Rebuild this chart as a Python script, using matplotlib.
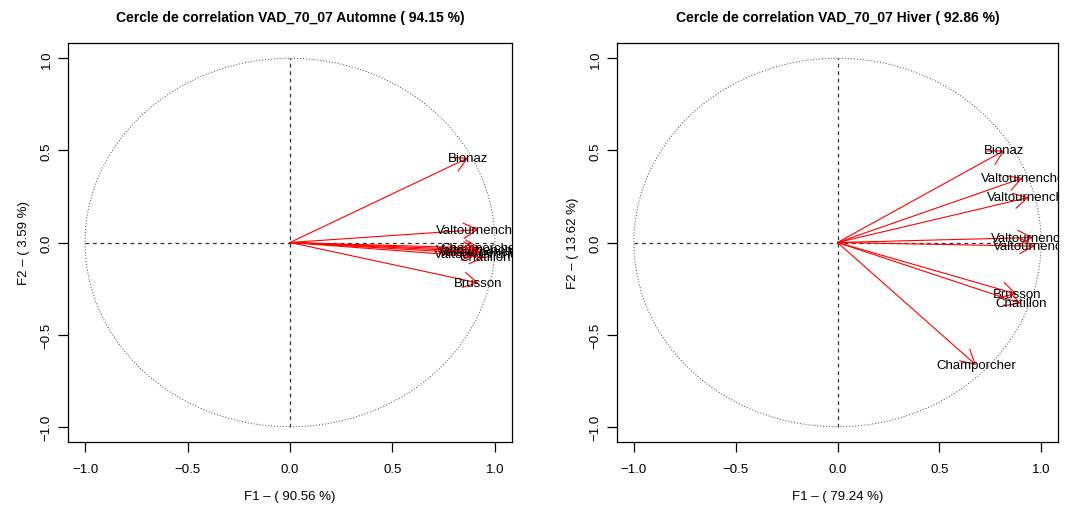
import numpy as np
import matplotlib.pyplot as plt
from matplotlib.patches import Circle

plt.rcParams['font.family'] = ['Liberation Sans', 'DejaVu Sans']

# Automne
aut_names = ["Bionaz", "Valtournenche", "Champorcher", "Valtournenche",
             "Valtournenche", "Chatillon", "Valtournenche", "Brusson"]
aut_f1 = [0.87, 0.92, 0.93, 0.92, 0.91, 0.95, 0.93, 0.92]
aut_f2 = [0.46, 0.07, -0.03, -0.04, -0.06, -0.08, -0.05, -0.22]

# Hiver
hiv_names = ["Bionaz", "Valtournenche", "Valtournenche", "Valtournenche",
             "Valtournenche", "Brusson", "Chatillon", "Champorcher"]
hiv_f1 = [0.82, 0.91, 0.94, 0.96, 0.97, 0.88, 0.90, 0.68]
hiv_f2 = [0.50, 0.35, 0.245, 0.027, -0.02, -0.28, -0.33, -0.665]

titles = ["Cercle de correlation VAD_70_07 Automne ( 94.15 %)",
          "Cercle de correlation VAD_70_07 Hiver ( 92.86 %)"]
xlabels = ["F1 \u2013 ( 90.56 %)", "F1 \u2013 ( 79.24 %)"]
ylabels = ["F2 \u2013 ( 3.59 %)", "F2 \u2013 ( 13.62 %)"]
ticks = [-1.0, -0.5, 0.0, 0.5, 1.0]

fig = plt.figure(figsize=(10.65, 5.1), dpi=100)
positions = [[68 / 1065, 67 / 510, 444 / 1065, 399 / 510],
             [617 / 1065, 67 / 510, 441 / 1065, 399 / 510]]

data = [(aut_names, aut_f1, aut_f2), (hiv_names, hiv_f1, hiv_f2)]

for i in range(2):
    ax = fig.add_axes(positions[i])
    names, f1, f2 = data[i]
    lim = 1.083
    ax.set_xlim(-lim, lim)
    ax.set_ylim(-lim, lim)

    ax.add_patch(Circle((0, 0), 1, fill=False, ls=(0, (1, 2)), lw=0.7, color='#444444'))
    ax.plot([-1, 1], [0, 0], ls=(0, (3, 3)), lw=0.9, color='#333333')
    ax.plot([0, 0], [-1, 1], ls=(0, (3, 3)), lw=0.9, color='#333333')

    for name, x, y in zip(names, f1, f2):
        ax.annotate("", xy=(x, y), xytext=(0, 0),
                    arrowprops=dict(arrowstyle="->,head_length=1.0,head_width=0.55",
                                    color='red', lw=0.8, shrinkA=0, shrinkB=0,
                                    mutation_scale=10))
        ax.text(x, y, name, ha='center', va='center', fontsize=9.5,
                color='black', clip_on=True)

    ax.set_xticks(ticks)
    ax.set_yticks(ticks)
    ax.set_xticklabels(["\u22121.0", "\u22120.5", "0.0", "0.5", "1.0"], fontsize=9.5)
    ax.set_yticklabels(["\u22121.0", "\u22120.5", "0.0", "0.5", "1.0"], fontsize=9.5,
                       rotation=90, va='center')
    ax.tick_params(length=7, width=0.9, pad=8)
    ax.tick_params(axis='y', pad=4)
    for s in ax.spines.values():
        s.set_linewidth(0.9)
    ax.set_xlabel(xlabels[i], fontsize=9.5, labelpad=11)
    ax.set_ylabel(ylabels[i], fontsize=9.5, labelpad=8)
    ax.set_title(titles[i], fontsize=10, fontweight='bold', pad=16)

plt.savefig("out.png", dpi=100)
